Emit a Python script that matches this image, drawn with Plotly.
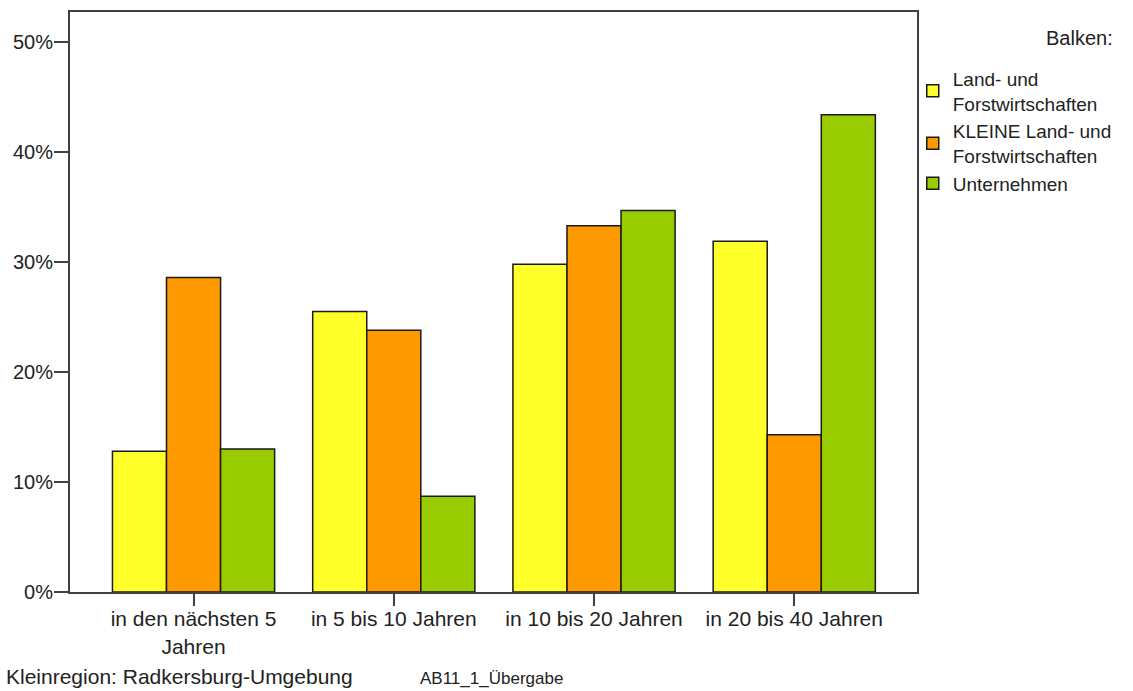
import plotly.graph_objects as go

categories = ["in den nächsten 5<br>Jahren", "in 5 bis 10 Jahren", "in 10 bis 20 Jahren", "in 20 bis 40 Jahren"]
series_names = ["Land- und<br>Forstwirtschaften", "KLEINE Land- und<br>Forstwirtschaften", "Unternehmen"]
land_forst = [12.8, 25.5, 29.8, 31.9]
kleine_land_forst = [28.6, 23.8, 33.3, 14.3]
unternehmen = [13.0, 8.7, 34.7, 43.4]
colors = ["#FFFF2A", "#FF9900", "#99CC00"]
y_tickvals = [0, 10, 20, 30, 40, 50]
y_ticktext = ["0%", "10%", "20%", "30%", "40%", "50%"]

FONT = "Liberation Sans, Arial, sans-serif"

fig = go.Figure()
for name, vals, col in zip(series_names, [land_forst, kleine_land_forst, unternehmen], colors):
    fig.add_trace(go.Bar(
        x=list(range(len(categories))), y=vals, name=name,
        marker=dict(color=col, line=dict(color="#1a1a1a", width=1.5)),
    ))

fig.update_layout(
    width=1133, height=691,
    margin=dict(l=70, r=216, t=10, b=99),
    paper_bgcolor="white", plot_bgcolor="white",
    barmode="group", bargap=0.19, bargroupgap=0,
    font=dict(family=FONT, size=20, color="#222222"),
    showlegend=True,
    legend=dict(
        x=0.995, xanchor="left", y=0.918, yanchor="top",
        font=dict(family=FONT, size=19, color="#222222"),
        bgcolor="rgba(0,0,0,0)", tracegroupgap=0,
        itemclick=False, itemdoubleclick=False,
    ),
    xaxis=dict(
        range=[-0.617, 3.613],
        tickmode="array", tickvals=list(range(len(categories))), ticktext=categories,
        ticks="outside", ticklen=12, tickwidth=2, tickcolor="#404040",
        ticklabelstandoff=-5,
        showline=True, linecolor="#404040", linewidth=2, mirror=True,
        showgrid=False, zeroline=False,
        tickfont=dict(family=FONT, size=21, color="#222222"),
    ),
    yaxis=dict(
        range=[0, 52.75],
        tickmode="array", tickvals=y_tickvals, ticktext=y_ticktext,
        ticks="outside", ticklen=14, tickwidth=2, tickcolor="#404040",
        ticklabelstandoff=-3,
        showline=True, linecolor="#404040", linewidth=2, mirror=True,
        showgrid=False, zeroline=False,
        tickfont=dict(family=FONT, size=20, color="#222222"),
    ),
)

fig.add_annotation(
    text="Balken:", xref="paper", yref="paper", x=1.0, y=1.0,
    xanchor="right", yanchor="middle", xshift=198, yshift=-26,
    showarrow=False, font=dict(family=FONT, size=20, color="#222222"),
)
fig.add_annotation(
    text="Kleinregion: Radkersburg-Umgebung", xref="paper", yref="paper", x=0, y=0,
    xanchor="left", yanchor="middle", xshift=-66, yshift=-84,
    showarrow=False, font=dict(family=FONT, size=21, color="#222222"),
)
fig.add_annotation(
    text="AB11_1_Übergabe", xref="paper", yref="paper", x=0, y=0,
    xanchor="left", yanchor="middle", xshift=348, yshift=-86,
    showarrow=False, font=dict(family=FONT, size=17, color="#222222"),
)

fig.write_html(
    "out.html",
    config={"displayModeBar": False},
    post_script="document.body.style.margin='0';document.body.style.overflow='hidden';",
)
